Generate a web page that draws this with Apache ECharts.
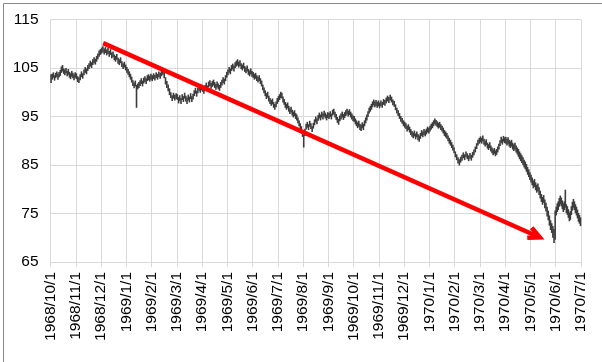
<!DOCTYPE html>
<html>
<head>
<meta charset="utf-8">
<script src="https://cdn.jsdelivr.net/npm/echarts@6/dist/echarts.min.js"></script>
<style>html,body{margin:0;padding:0;background:#fff}#c{width:602px;height:362px}</style>
</head>
<body>
<div id="c"></div>
<script>
// Tick labels (one per month, x axis) and y ticks
const monthLabels = ['1968/10/1','1968/11/1','1968/12/1','1969/1/1','1969/2/1','1969/3/1','1969/4/1','1969/5/1','1969/6/1','1969/7/1','1969/8/1','1969/9/1','1969/10/1','1969/11/1','1969/12/1','1970/1/1','1970/2/1','1970/3/1','1970/4/1','1970/5/1','1970/6/1','1970/7/1'];
const yTicks = [65, 75, 85, 95, 105, 115];

// Daily [low, high] per month (trading days)
const oct1968 = [[101.9,103.7],[102.6,103.8],[103.0,104.1],[102.4,103.5],[102.9,104.0],[103.2,104.3],[102.6,103.8],[103.1,104.2],[103.4,104.6],[104.0,105.3],[104.3,105.6],[103.8,104.9],[103.5,104.7],[103.9,105.0],[103.3,104.4],[103.6,104.8],[103.0,104.2],[102.7,103.9],[103.2,104.4],[102.9,104.0],[102.5,103.7],[103.0,104.1]];
const nov1968 = [[102.7,103.9],[102.1,103.3],[101.9,103.1],[102.5,103.7],[103.1,104.3],[102.8,103.9],[103.5,104.7],[104.0,105.2],[103.7,104.9],[104.4,105.6],[104.8,106.0],[105.3,106.5],[105.0,106.2],[105.6,106.8],[106.0,107.2],[105.7,106.9],[106.3,107.5],[106.8,108.0],[107.3,108.6],[107.7,108.9]];
const dec1968 = [[108.0,109.2],[108.2,109.5],[107.8,109.0],[108.1,109.3],[107.6,108.8],[107.9,109.1],[107.3,108.5],[107.7,108.9],[107.0,108.2],[107.2,108.4],[106.6,107.8],[106.3,107.5],[106.7,107.9],[105.9,107.1],[105.6,106.8],[106.0,107.2],[105.2,106.4],[104.8,106.0],[105.1,106.3],[104.5,105.7]];
const jan1969 = [[104.0,105.2],[103.6,104.8],[103.1,104.3],[102.6,103.8],[102.0,103.2],[101.3,102.5],[100.8,102.0],[101.2,102.4],[96.8,101.5],[100.6,101.8],[100.9,102.1],[101.3,102.5],[101.7,102.9],[101.2,102.4],[101.8,103.0],[102.1,103.3],[101.7,102.9],[102.3,103.5],[102.5,103.7],[102.2,103.4],[102.6,103.8]];
const feb1969 = [[102.3,103.5],[102.7,103.9],[102.4,103.6],[102.9,104.1],[102.6,103.8],[103.1,104.3],[102.8,104.0],[103.3,104.5],[103.6,104.8],[102.9,104.2],[101.6,103.1],[100.9,102.3],[100.2,101.6],[99.4,100.8],[98.8,100.0],[98.2,99.4],[98.7,99.9],[98.3,99.5],[98.6,99.8]];
const mar1969 = [[98.4,99.6],[97.7,99.0],[98.2,99.4],[97.6,98.8],[98.4,99.6],[98.0,99.2],[98.7,99.9],[98.1,99.3],[97.6,98.9],[98.3,99.5],[97.9,99.1],[98.6,99.8],[98.0,99.2],[98.5,99.7],[99.2,100.4],[99.7,100.9],[99.1,100.3],[99.8,101.0],[100.3,101.5],[99.9,101.1],[100.4,101.6]];
const apr1969 = [[100.1,101.3],[99.7,100.9],[100.3,101.5],[100.8,102.0],[100.2,101.4],[101.0,102.2],[101.3,102.5],[100.7,101.9],[101.1,102.3],[101.4,102.6],[100.9,102.1],[100.5,101.7],[101.0,102.2],[100.6,101.8],[100.3,101.5],[100.9,102.1],[101.4,102.6],[101.9,103.1],[101.6,102.8],[102.3,103.5],[103.0,104.2]];
const may1969 = [[103.5,104.7],[104.0,105.2],[103.7,104.9],[104.4,105.6],[104.7,105.9],[104.3,105.5],[105.0,106.2],[105.3,106.5],[105.5,106.8],[105.1,106.3],[105.4,106.6],[104.8,106.0],[104.5,105.7],[104.9,106.1],[104.2,105.4],[103.9,105.1],[104.3,105.5],[103.6,104.8],[103.3,104.5],[103.7,104.9],[103.2,104.4]];
const jun1969 = [[103.0,104.2],[102.6,103.8],[102.8,104.0],[102.3,103.5],[102.0,103.2],[102.3,103.5],[101.7,102.9],[101.2,102.4],[100.4,101.6],[99.8,101.0],[99.2,100.4],[98.6,99.8],[98.9,100.1],[98.1,99.3],[97.6,98.8],[97.2,98.4],[97.5,98.7],[96.8,98.0],[96.4,97.6],[96.9,98.1],[97.6,98.8]];
const jul1969 = [[98.0,99.2],[98.4,99.6],[98.8,100.1],[98.7,99.9],[97.9,99.1],[97.4,98.6],[96.8,98.0],[96.4,97.6],[96.7,97.9],[96.0,97.2],[95.5,96.7],[95.8,97.0],[95.2,96.4],[94.8,96.0],[95.1,96.3],[94.5,95.7],[94.2,95.4],[93.6,94.8],[93.0,94.2],[92.4,93.6],[91.6,93.0],[90.8,92.2]];
const aug1969 = [[88.6,91.2],[91.0,92.5],[92.3,93.5],[92.7,93.9],[92.2,93.4],[92.9,94.1],[92.4,93.6],[91.8,93.0],[92.5,93.7],[93.2,94.4],[93.8,95.0],[93.4,94.6],[94.1,95.3],[94.6,95.8],[94.2,95.4],[94.8,96.0],[94.4,95.6],[95.0,96.2],[94.6,95.8],[94.2,95.4],[94.7,95.9]];
const sep1969 = [[94.5,95.7],[94.9,96.1],[94.4,95.6],[95.2,96.4],[95.4,96.6],[94.8,96.0],[94.3,95.5],[93.7,94.9],[93.3,94.5],[94.0,95.2],[94.4,95.6],[94.8,96.0],[94.3,95.5],[94.7,95.9],[95.1,96.3],[95.4,96.6],[95.0,96.2],[95.3,96.5],[94.8,96.0],[94.4,95.6],[94.0,95.2]];
const oct1969 = [[93.9,95.1],[93.4,94.6],[93.0,94.2],[92.6,93.8],[92.9,94.1],[92.2,93.5],[92.0,93.3],[92.6,93.8],[92.2,93.5],[93.0,94.2],[93.6,94.8],[94.2,95.4],[94.9,96.1],[95.6,96.8],[96.0,97.2],[96.4,97.6],[96.9,98.1],[97.3,98.5],[96.9,98.1],[97.2,98.4],[96.8,98.0],[97.1,98.3]];
const nov1969 = [[96.7,97.9],[97.1,98.3],[96.8,98.0],[97.4,98.6],[97.2,98.4],[97.7,98.9],[98.1,99.3],[97.8,99.0],[98.3,99.5],[97.9,99.1],[97.3,98.5],[97.0,98.2],[96.3,97.5],[95.6,96.8],[95.1,96.3],[94.5,95.7],[93.9,95.1],[93.5,94.7],[93.0,94.2]];
const dec1969 = [[92.7,93.9],[92.4,93.6],[91.9,93.1],[92.2,93.4],[91.7,92.9],[91.2,92.4],[90.8,92.0],[90.5,91.7],[90.9,92.1],[90.3,91.5],[90.7,91.9],[90.1,91.4],[89.8,91.1],[90.4,91.6],[91.0,92.2],[90.7,91.9],[91.2,92.4],[90.9,92.1],[91.3,92.5],[91.7,92.9],[91.5,92.7]];
const jan1970 = [[91.9,93.1],[92.3,93.5],[92.6,93.8],[93.0,94.2],[93.4,94.6],[93.1,94.3],[92.8,94.0],[92.5,93.7],[92.7,93.9],[92.2,93.4],[91.9,93.1],[91.5,92.7],[91.0,92.2],[90.7,91.9],[90.4,91.6],[89.9,91.1],[89.4,90.6],[89.0,90.2],[88.5,89.7],[88.0,89.2],[87.4,88.6]];
const feb1970 = [[86.6,87.8],[86.0,87.2],[85.3,86.6],[84.9,86.2],[85.5,86.7],[85.9,87.1],[86.4,87.6],[86.0,87.2],[86.6,87.8],[86.2,87.4],[85.8,87.0],[86.3,87.5],[85.9,87.1],[86.5,87.7],[87.0,88.2],[87.6,88.8],[88.3,89.5],[89.0,90.2],[89.4,90.6]];
const mar1970 = [[89.7,90.9],[89.4,90.6],[89.9,91.1],[89.2,90.4],[88.8,90.0],[89.1,90.3],[88.4,89.6],[88.1,89.3],[88.5,89.7],[87.8,89.0],[87.4,88.6],[87.0,88.2],[87.3,88.5],[86.8,88.0],[87.1,88.3],[87.6,88.8],[88.2,89.4],[88.9,90.1],[89.6,90.8],[89.2,90.4],[89.8,91.0],[89.5,90.7]];
const apr1970 = [[89.4,90.8],[89.0,90.4],[89.3,90.7],[88.8,90.2],[88.5,89.9],[88.8,90.2],[88.2,89.6],[87.9,89.3],[88.2,89.6],[87.6,89.0],[87.2,88.6],[86.7,88.3],[86.2,87.8],[85.8,87.4],[85.4,87.0],[85.0,86.6],[84.5,86.1],[84.1,85.7],[83.6,85.2],[83.0,84.6],[82.5,84.1],[81.9,83.5]];
const may1970 = [[81.4,83.0],[80.8,82.4],[80.2,81.8],[80.5,82.1],[79.8,81.4],[79.3,80.9],[79.6,81.2],[78.8,80.4],[78.1,79.7],[77.4,79.0],[76.8,78.4],[77.2,78.8],[76.1,77.9],[75.4,77.2],[74.4,76.4],[73.6,75.6],[72.5,74.6],[71.6,73.6],[71.0,73.0],[70.0,72.4],[68.9,71.8],[69.6,75.6]];
const jun1970 = [[74.6,76.4],[75.3,77.1],[75.7,77.5],[76.4,78.2],[76.9,78.7],[76.5,78.3],[75.9,77.7],[75.3,77.1],[75.7,77.5],[76.2,79.9],[75.1,76.9],[74.7,76.5],[74.1,75.9],[73.4,75.2],[73.7,75.5],[74.7,76.5],[75.6,77.4],[76.2,78.0],[75.7,77.5],[75.1,76.9],[74.6,76.4],[74.0,75.8],[73.3,75.1],[72.9,74.7],[72.4,74.2]];

const months = [oct1968, nov1968, dec1968, jan1969, feb1969, mar1969, apr1969, may1969, jun1969, jul1969, aug1969, sep1969, oct1969, nov1969, dec1969, jan1970, feb1970, mar1970, apr1970, may1970, jun1970];

// Trend arrow annotation: [month position, value]
const arrowStart = [2.085, 110.14];
const arrowEnd = [19.24, 70.37];

const bars = [];
months.forEach((arr, mi) => {
  arr.forEach((p, i) => bars.push([mi + (i + 0.5) / arr.length, p[0], p[1]]));
});

const chart = echarts.init(document.getElementById('c'), null, {renderer: 'canvas'});
const FONT = 'Liberation Sans';
chart.setOption({
  animation: false,
  backgroundColor: '#ffffff',
  grid: {left: 50.5, right: 21, top: 19.5, bottom: 100, containLabel: false, outerBoundsMode: 'none'},
  xAxis: {
    type: 'value', min: 0, max: monthLabels.length - 1, interval: 1,
    axisLine: {show: true, lineStyle: {color: '#d9d9d9', width: 1}},
    axisTick: {show: true, length: 5, lineStyle: {color: '#d9d9d9'}},
    splitLine: {show: true, lineStyle: {color: '#d9d9d9', width: 1}},
    axisLabel: {
      rotate: 90, margin: 10, fontSize: 15.5, fontFamily: FONT, color: '#000',
      formatter: v => (Number.isInteger(v) ? monthLabels[v] : '')
    }
  },
  yAxis: {
    type: 'value', min: yTicks[0], max: yTicks[yTicks.length - 1], interval: 10,
    axisLine: {show: false}, axisTick: {show: false},
    splitLine: {show: true, lineStyle: {color: '#d9d9d9', width: 1}},
    axisLabel: {margin: 12, fontSize: 15.5, fontFamily: FONT, color: '#000'}
  },
  graphic: [{
    type: 'rect', left: 1, top: 1, z: 100, silent: true,
    shape: {x: 0, y: 0, width: 599, height: 359},
    style: {fill: 'none', stroke: '#898989', lineWidth: 1}
  }],
  series: [
    {
      type: 'custom',
      data: bars,
      encode: {x: 0, y: [1, 2]},
      renderItem: (params, api) => {
        const p1 = api.coord([api.value(0), api.value(1)]);
        const p2 = api.coord([api.value(0), api.value(2)]);
        return {
          type: 'line',
          shape: {x1: p1[0], y1: p1[1], x2: p2[0], y2: p2[1]},
          style: {stroke: '#3c3c3c', lineWidth: 1.6}
        };
      }
    },
    {
      type: 'line',
      data: [],
      silent: true,
      markLine: {
        silent: true,
        symbol: ['none', 'path://M0,0 L7.5,15.5 L3.45,17.5 L0,10.6 L-3.45,17.5 L-7.5,15.5 Z'],
        symbolSize: [15, 17.5],
        label: {show: false},
        lineStyle: {color: '#ff0000', width: 4.5, type: 'solid', opacity: 1},
        itemStyle: {color: '#ff0000'},
        data: [[{coord: arrowStart}, {coord: arrowEnd}]]
      }
    }
  ]
});
</script>
</body>
</html>
